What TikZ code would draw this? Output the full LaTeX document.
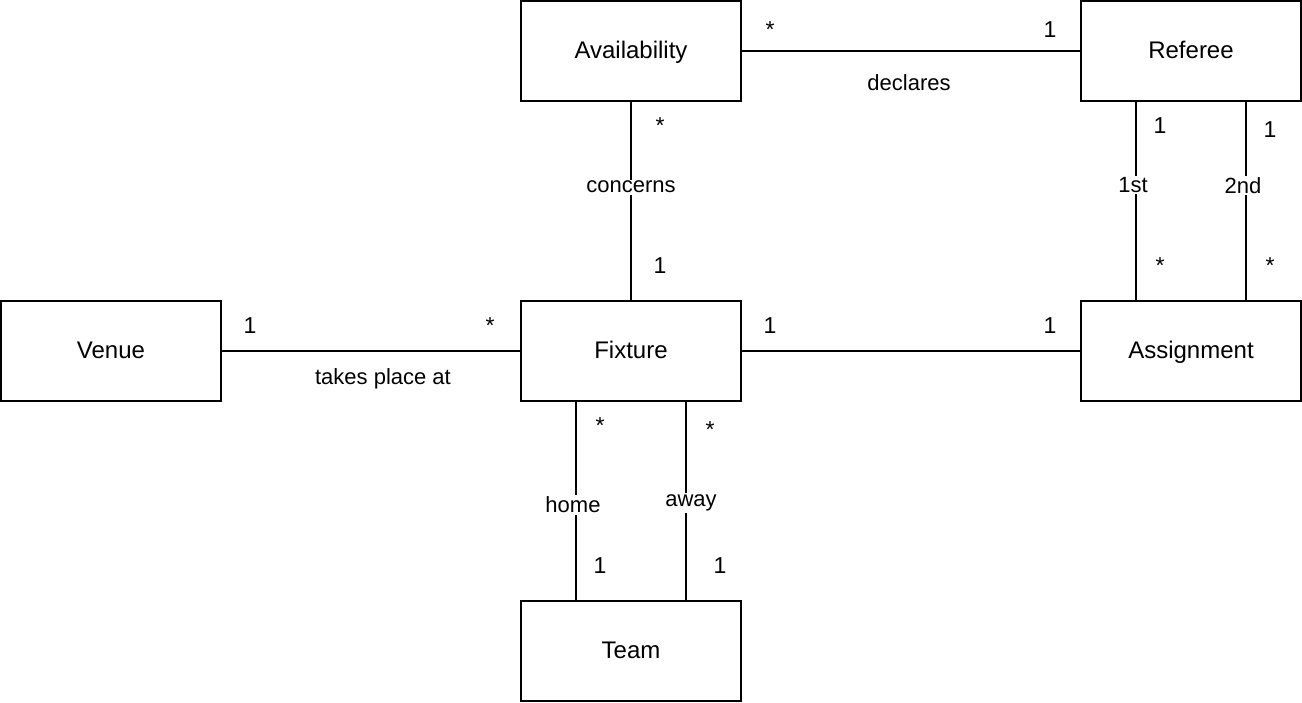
\documentclass[tikz,border=0pt]{standalone}
\usepackage{fontspec}
\setmainfont{Liberation Sans}
\begin{document}
\begin{tikzpicture}[x=1pt,y=-1pt,
  entity/.style={draw,line width=2pt,minimum width=220pt,minimum height=100pt,inner sep=0pt,text height=18pt,text depth=4pt,font=\fontsize{24}{28}\selectfont},
  conn/.style={line width=2pt},
  elabel/.style={fill=white,inner sep=1.5pt,font=\fontsize{22}{26}\selectfont},
  plabel/.style={inner sep=0pt,font=\fontsize{22}{26}\selectfont},
  mult/.style={inner sep=0pt,font=\fontsize{23}{27}\selectfont}]
\useasboundingbox (0,0) rectangle (1302,702);
\node[entity] (avail) at (631,51) {Availability};
\node[entity] (ref) at (1191,51) {Referee};
\node[entity] (venue) at (111,351) {Venue};
\node[entity] (fix) at (631,351) {Fixture};
\node[entity] (asg) at (1191,351) {Assignment};
\node[entity] (team) at (631,651) {Team};
% Availability - Referee
\draw[conn] (avail.east) -- (ref.west);
\node[plabel] (declares) at (909,83) {declares};
\node[mult] (m1) at (770,30) {*};
\node[mult] (m2) at (1050,30) {1};
% Availability - Fixture
\draw[conn] (avail.south) -- (fix.north) node[elabel,pos=0.43] (concerns) {concerns};
\node[mult] (m3) at (660,126) {*};
\node[mult] (m4) at (660,266) {1};
% Venue - Fixture
\draw[conn] (venue.east) -- (fix.west);
\node[plabel] (takes) at (383,379) {takes place at};
\node[mult] (m5) at (250,326) {1};
\node[mult] (m6) at (490,326) {*};
% Fixture - Assignment
\draw[conn] (fix.east) -- (asg.west);
\node[mult] (m7) at (770,326) {1};
\node[mult] (m8) at (1050,326) {1};
% Referee - Assignment
\coordinate (r1) at ([xshift=-55pt]ref.south);
\coordinate (a1) at ([xshift=-55pt]asg.north);
\coordinate (r2) at ([xshift=55pt]ref.south);
\coordinate (a2) at ([xshift=55pt]asg.north);
\draw[conn] (r1) -- (a1) node[elabel,pos=0.42,xshift=-3pt] (first) {1st};
\draw[conn] (r2) -- (a2) node[elabel,pos=0.42,xshift=-3pt] (second) {2nd};
\node[mult] (m9) at (1160,126) {1};
\node[mult] (m10) at (1270,130) {1};
\node[mult] (m11) at (1160,266) {*};
\node[mult] (m12) at (1270,266) {*};
% Fixture - Team
\coordinate (f1) at ([xshift=-55pt]fix.south);
\coordinate (t1) at ([xshift=-55pt]team.north);
\coordinate (f2) at ([xshift=55pt]fix.south);
\coordinate (t2) at ([xshift=55pt]team.north);
\draw[conn] (f1) -- (t1) node[elabel,pos=0.52,xshift=-3pt] (home) {home};
\draw[conn] (f2) -- (t2) node[elabel,pos=0.51,xshift=5pt] (away) {away};
\node[mult] (m13) at (600,426) {*};
\node[mult] (m14) at (710,430) {*};
\node[mult] (m15) at (600,566) {1};
\node[mult] (m16) at (720,566) {1};
\end{tikzpicture}
\end{document}
